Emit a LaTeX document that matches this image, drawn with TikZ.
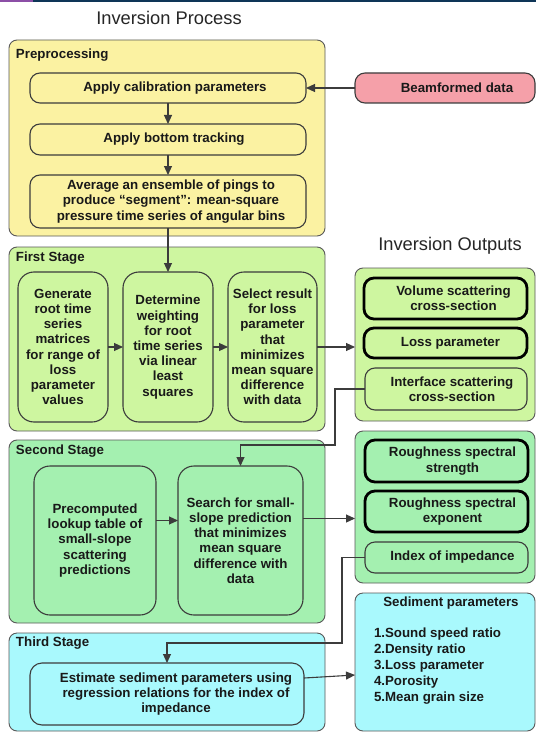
\documentclass[tikz,border=0pt]{standalone}
\usepackage{fontspec}
\setmainfont{Liberation Sans}
\usetikzlibrary{arrows.meta,calc}

\definecolor{prefill}{HTML}{FBF2A2}
\definecolor{firstfill}{HTML}{CEF6A0}
\definecolor{secondfill}{HTML}{A4F0B0}
\definecolor{thirdfill}{HTML}{A9F9FD}
\definecolor{datafill}{HTML}{F5A0A9}
\definecolor{edge}{HTML}{3C3C3C}
\definecolor{navyband}{HTML}{0E3557}
\definecolor{violetband}{HTML}{8C4FA6}

% box placed from its top-left and bottom-right corners (y runs downwards);
% the optional argument moves the text sideways inside the box
\newcommand\cornerbox[8][0]{%
  \node[#3, minimum width={(#6)-(#4)}, minimum height={(#7)-(#5)},
        label={[lbl, xshift=#1pt]center:{#8}}]
    (#2) at ({((#4)+(#6))/2},{((#5)+(#7))/2}) {};}

\begin{document}
\begin{tikzpicture}[x=1pt,y=-1pt,
  every node/.style={inner sep=0pt, outer sep=0pt},
  lbl/.style={font=\bfseries\fontsize{13.3}{15.2}\selectfont, align=center, text=black!90},
  heading/.style={font=\fontsize{18.3}{22}\selectfont, text=black!85},
  panel/.style={draw=edge!85, line width=0.9pt, rounded corners=8pt},
  stepbox/.style={draw=edge, line width=1.1pt, rounded corners=10pt},
  tallbox/.style={stepbox, rounded corners=16pt},
  keybox/.style={stepbox, draw=black, line width=2.8pt},
  flow/.style={draw=edge, line width=1.1pt, -{Triangle[length=9pt,width=8pt]}},
]
\useasboundingbox (0,0) rectangle (536,733);
\fill[white] (0,0) rectangle (536,733);

% header band
\fill[navyband] (0,0) rectangle (536,2.5);
\fill[violetband] (0,0) rectangle (33,2.5);

% titles
\node[heading] (ttlproc) at (169,18) {Inversion Process};
\node[heading] (ttlout) at (450,246) {Inversion Outputs};

% ---------- Preprocessing ----------
\cornerbox{pre}{panel,fill=prefill}{9}{40}{325}{236}{}
\node[lbl, anchor=west] (prelbl) at (16,55) {Preprocessing};
\cornerbox[7]{cal}{stepbox,fill=prefill}{30}{73}{306}{103}{Apply calibration parameters}
\cornerbox[6]{track}{stepbox,fill=prefill}{30}{124}{306}{155}{Apply bottom tracking}
\cornerbox[3]{avg}{stepbox,fill=prefill}{30}{175}{306}{228}{Average an ensemble of pings to\\produce “segment”: mean-square\\pressure time series of angular bins}
\cornerbox[12]{beam}{stepbox,fill=datafill}{355}{73}{535}{103}{Beamformed data}

% ---------- First stage ----------
\cornerbox{first}{panel,fill=firstfill}{9}{247}{325}{431}{}
\node[lbl, anchor=west] (firstlbl) at (16,258) {First Stage};
\cornerbox{gen}{tallbox,fill=firstfill}{18}{272}{108}{422}{Generate\\root time\\series\\matrices\\for range of\\loss\\parameter\\values}
\cornerbox{weight}{tallbox,fill=firstfill}{123}{272}{213}{422}{Determine\\weighting\\for root\\time series\\via linear\\least\\squares}
\cornerbox{sel}{tallbox,fill=firstfill}{228}{272}{317}{422}{Select result\\for loss\\parameter\\that\\minimizes\\mean square\\difference\\with data}

% ---------- Outputs, first group ----------
\cornerbox{out1}{panel,fill=firstfill}{355}{268}{535}{421}{}
\cornerbox[8]{vol}{keybox,fill=firstfill}{364}{278}{527}{319}{Volume scattering\\cross-section}
\cornerbox[5]{loss}{keybox,fill=firstfill}{364}{328}{527}{358}{Loss parameter}
\cornerbox[6]{iface}{stepbox,fill=firstfill}{365}{368}{527}{410}{Interface scattering\\cross-section}

% ---------- Second stage ----------
\cornerbox{second}{panel,fill=secondfill}{9}{440}{325}{623}{}
\node[lbl, anchor=west] (secondlbl) at (16,451) {Second Stage};
\cornerbox{lookup}{tallbox,fill=secondfill}{34}{466}{156}{615}{Precomputed\\lookup table of\\small-slope\\scattering\\predictions}
\cornerbox{srch}{tallbox,fill=secondfill}{178}{466}{303}{615}{Search for small-\\slope prediction\\that minimizes\\mean square\\difference with\\data}

% ---------- Outputs, second group ----------
\cornerbox{out2}{panel,fill=secondfill}{355}{431}{535}{583}{}
\cornerbox[6]{rstr}{keybox,fill=secondfill}{365}{440}{528}{482}{Roughness spectral\\strength}
\cornerbox[6]{rexp}{keybox,fill=secondfill}{365}{491}{528}{532}{Roughness spectral\\exponent}
\cornerbox[6]{index}{stepbox,fill=secondfill}{365}{542}{528}{573}{Index of impedance}

% ---------- Third stage ----------
\cornerbox{third}{panel,fill=thirdfill}{9}{633}{325}{731}{}
\node[lbl, anchor=west] (thirdlbl) at (16,643) {Third Stage};
\cornerbox[9]{est}{stepbox,fill=thirdfill,rounded corners=12pt}{30}{663}{304}{725}{Estimate sediment parameters using\\regression relations for the index of\\impedance}

% ---------- Sediment parameters ----------
\cornerbox{sed}{panel,fill=thirdfill}{355}{593}{535}{731}{}
\node[lbl] (sedttl) at (451,603) {Sediment parameters};
\node[lbl, align=left, anchor=north west, font=\bfseries\fontsize{13.3}{16}\selectfont] (sedlist) at (374,628)
  {1.Sound speed ratio\\2.Density ratio\\3.Loss parameter\\4.Porosity\\5.Mean grain size};

% ---------- connectors ----------
\coordinate (bendA) at (335,445);
\coordinate (bendB) at (342,643);

\draw[flow] (beam.west) -- (cal.east);
\draw[flow] (cal.south) -- (track.north);
\draw[flow] (track.south) -- (avg.north);
\draw[flow] (avg.south) -- (weight.north);
\draw[flow] (gen.east) -- (weight.west);
\draw[flow] (weight.east) -- (sel.west);
\draw[flow] (sel.east) -- (sel.east -| out1.west);
\draw[flow] (iface.west) -| (bendA) -| (srch.north);
\draw[flow] ([yshift=20pt]lookup.east) -- ([yshift=20pt]srch.west);
\draw[flow] ([yshift=22pt]srch.east) -- ([yshift=22pt]srch.east -| out2.west);
\draw[flow] (index.west) -| (bendB) -| (est.north);
\draw[flow] ([yshift=16pt]est.east) -- ([yshift=-13pt]sed.west);
\end{tikzpicture}
\end{document}
